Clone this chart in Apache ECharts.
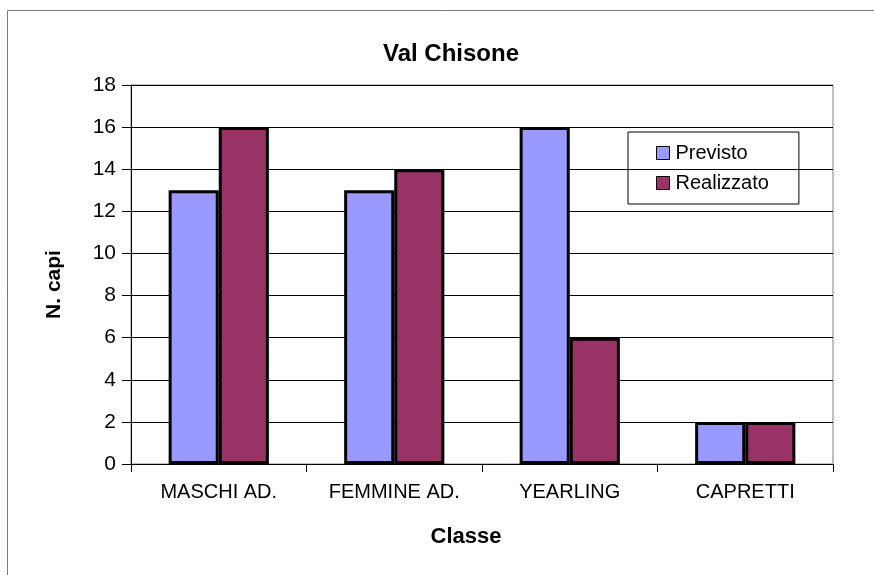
<!DOCTYPE html>
<html>
<head>
<meta charset="utf-8">
<script src="https://cdn.jsdelivr.net/npm/echarts@6/dist/echarts.min.js"></script>
<style>
  html, body { margin: 0; padding: 0; background: #fff; }
  #chart { width: 874px; height: 575px; }
</style>
</head>
<body>
<div id="chart"></div>
<script>
var categories = ['MASCHI AD.', 'FEMMINE AD.', 'YEARLING', 'CAPRETTI']
var previsto = [13, 13, 16, 2]
var realizzato = [16, 14, 6, 2]

var chart = echarts.init(document.getElementById('chart'))
var font = 'Liberation Sans, Arial, sans-serif'

chart.setOption({
  animation: false,
  textStyle: { fontFamily: font, color: '#000' },
  graphic: [{
    // outer chart frame
    type: 'rect',
    shape: { x: 7.5, y: 10.5, width: 900, height: 600 },
    style: { fill: 'none', stroke: '#777', lineWidth: 1 }
  }],
  title: [{
    text: 'Val Chisone',
    left: 446,
    top: 37,
    textAlign: 'center',
    textStyle: { fontSize: 24, fontWeight: 'bold', color: '#000', fontFamily: font }
  }, {
    text: 'Classe',
    left: 461,
    top: 521,
    textAlign: 'center',
    textStyle: { fontSize: 22, fontWeight: 'bold', color: '#000', fontFamily: font }
  }],
  legend: {
    orient: 'vertical',
    left: 628,
    top: 132,
    padding: [11, 30, 11, 28],
    itemGap: 10,
    itemWidth: 13,
    itemHeight: 13,
    itemStyle: { borderWidth: 1, borderColor: '#000' },
    icon: 'rect',
    borderColor: '#000',
    borderWidth: 1,
    textStyle: { fontSize: 20, color: '#000', fontFamily: font, padding: [0, 0, 0, 1] },
    data: ['Previsto', 'Realizzato']
  },
  grid: {
    left: 131,
    right: 41,
    top: 85,
    bottom: 111,
    show: true,
    borderColor: '#808080',
    borderWidth: 1
  },
  xAxis: {
    type: 'category',
    data: categories,
    axisLine: { lineStyle: { color: '#000', width: 1 } },
    axisTick: { show: true, length: 8, lineStyle: { color: '#000' } },
    axisLabel: { fontSize: 20, color: '#000', margin: 18, fontFamily: font }
  },
  yAxis: {
    type: 'value',
    min: 0,
    max: 18,
    interval: 2,
    name: 'N. capi',
    nameLocation: 'middle',
    nameRotate: 90,
    nameGap: 66,
    nameTextStyle: { fontSize: 21, fontWeight: 'bold', color: '#000', fontFamily: font, padding: [0, 20, 0, 0] },
    axisLine: { show: true, lineStyle: { color: '#000', width: 1 } },
    axisTick: { show: true, length: 9, lineStyle: { color: '#000' } },
    axisLabel: { fontSize: 21, color: '#000', margin: 15, fontFamily: font },
    splitLine: { lineStyle: { color: '#000', width: 1 } }
  },
  series: [{
    name: 'Previsto',
    type: 'bar',
    data: previsto,
    barGap: '0%',
    barCategoryGap: '42.9%',
    itemStyle: { color: '#9999FF', borderColor: '#000', borderWidth: 3 }
  }, {
    name: 'Realizzato',
    type: 'bar',
    data: realizzato,
    barGap: '0%',
    barCategoryGap: '42.9%',
    itemStyle: { color: '#993366', borderColor: '#000', borderWidth: 3 }
  }]
})
</script>
</body>
</html>
